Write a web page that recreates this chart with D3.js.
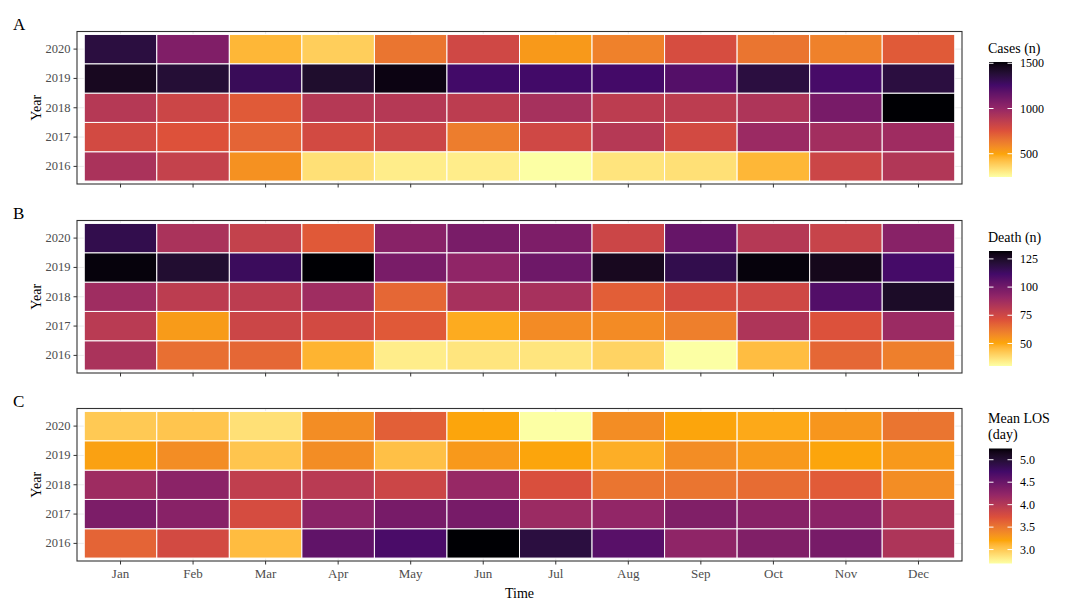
<!DOCTYPE html>
<html>
<head>
<meta charset="utf-8">
<script src="https://cdn.jsdelivr.net/npm/d3@7"></script>
<style>
  body { margin: 0; background: #fff; }
  svg text { font-family: "Liberation Serif", "DejaVu Serif", serif; }
</style>
</head>
<body>
<div id="chart"></div>
<script>
// ─── DATA ─────────────────────────────────────────────────────────────────────
// rows go 2016 → 2020, columns Jan → Dec

const months = ["Jan", "Feb", "Mar", "Apr", "May", "Jun",
                "Jul", "Aug", "Sep", "Oct", "Nov", "Dec"];
const years = [2016, 2017, 2018, 2019, 2020];

const cases = [
  [929, 840, 561, 332, 294, 294, 243, 319, 332, 446, 815, 904],
  [790, 751, 700, 790, 815, 624, 802, 891, 790, 980, 955, 967],
  [891, 815, 726, 891, 891, 866, 942, 866, 866, 917, 1094, 1514],
  [1450, 1387, 1298, 1412, 1489, 1260, 1260, 1255, 1209, 1361, 1247, 1361],
  [1361, 1069, 446, 383, 650, 802, 535, 612, 777, 650, 612, 726]
];

const deaths = [
  [85, 64, 66, 47, 34, 36, 36, 40, 30, 45, 66, 60],
  [81, 53, 76, 74, 69, 49, 57, 57, 60, 84, 71, 89],
  [88, 80, 80, 88, 66, 86, 86, 68, 73, 75, 108, 125],
  [131, 123, 114, 132, 98, 92, 101, 127, 117, 131, 128, 111],
  [117, 85, 78, 69, 94, 98, 97, 76, 103, 82, 77, 94]
];

const meanLos = [
  [3.61, 3.79, 3.07, 4.56, 4.69, 5.25, 4.94, 4.61, 4.25, 4.35, 4.41, 4.05],
  [4.38, 4.30, 3.77, 4.28, 4.41, 4.41, 4.17, 4.23, 4.35, 4.30, 4.28, 4.05],
  [4.15, 4.28, 3.92, 3.97, 3.84, 4.20, 3.74, 3.51, 3.51, 3.56, 3.66, 3.36],
  [3.23, 3.36, 3.02, 3.36, 3.05, 3.28, 3.20, 3.15, 3.36, 3.28, 3.20, 3.28],
  [3.00, 3.02, 2.87, 3.36, 3.64, 3.20, 2.69, 3.36, 3.20, 3.18, 3.30, 3.51]
];

const casesTicks = [500, 1000, 1500];
const deathTicks = [50, 75, 100, 125];
const losTicks = [3.0, 3.5, 4.0, 4.5, 5.0];

// six inferno anchors, high value = dark end
const palette = ["#FCFFA4", "#FCA50A", "#DD513A", "#932667", "#420A68", "#000004"];

const panels = [
  { tag: "A", values: cases, title: ["Cases (n)"], ticks: casesTicks, fmt: d3.format("d") },
  { tag: "B", values: deaths, title: ["Death (n)"], ticks: deathTicks, fmt: d3.format("d") },
  { tag: "C", values: meanLos, title: ["Mean LOS", "(day)"], ticks: losTicks, fmt: d3.format(".1f") }
];

// ─── LAYOUT ───────────────────────────────────────────────────────────────────
const W = 1074, H = 615;
const plotLeft = 77, plotRight = 962;
const panelTops = [31.5, 220.5, 408.5];
const panelH = 152.5;
const legendX = 989, legendW = 23;
const serif = "'Liberation Serif', 'DejaVu Serif', serif";

const svg = d3.select("#chart")
  .append("svg")
  .attr("width", W)
  .attr("height", H)
  .attr("font-family", serif);

const xScale = d3.scaleBand()
  .domain(months)
  .range([plotLeft, plotRight])
  .paddingInner(0)
  .paddingOuter(0.1);

panels.forEach((p, i) => drawPanel(p, panelTops[i], i === panels.length - 1));

// x title
svg.append("text")
  .attr("x", (plotLeft + plotRight) / 2)
  .attr("y", 598)
  .attr("text-anchor", "middle")
  .attr("font-size", 14)
  .attr("fill", "#000")
  .text("Time");

// ─── ONE PANEL ────────────────────────────────────────────────────────────────
function drawPanel(p, top, showMonths) {
  const bottom = top + panelH;

  const yScale = d3.scaleBand()
    .domain(years.slice().reverse())
    .range([top, bottom])
    .paddingInner(0)
    .paddingOuter(0.1);

  const flat = [];
  p.values.forEach((row, r) => row.forEach((v, c) => {
    flat.push({ year: years[r], month: months[c], value: v });
  }));

  // colour: 6 anchors spread over the data range, blended in Lab
  const extent = d3.extent(flat, d => d.value);
  const color = d3.scaleLinear()
    .domain(d3.range(palette.length).map(k => extent[0] + k * (extent[1] - extent[0]) / (palette.length - 1)))
    .range(palette)
    .interpolate(d3.interpolateLab);

  const g = svg.append("g");

  // 1. grid lines behind tiles
  g.selectAll(".vgrid")
    .data(months)
    .enter()
    .append("line")
    .attr("x1", d => xScale(d) + xScale.bandwidth() / 2)
    .attr("x2", d => xScale(d) + xScale.bandwidth() / 2)
    .attr("y1", top)
    .attr("y2", bottom)
    .attr("stroke", "#ebebeb")
    .attr("stroke-width", 1);

  g.selectAll(".hgrid")
    .data(years)
    .enter()
    .append("line")
    .attr("x1", plotLeft)
    .attr("x2", plotRight)
    .attr("y1", d => yScale(d) + yScale.bandwidth() / 2)
    .attr("y2", d => yScale(d) + yScale.bandwidth() / 2)
    .attr("stroke", "#ebebeb")
    .attr("stroke-width", 1);

  // 2. tiles
  g.selectAll(".tile")
    .data(flat)
    .enter()
    .append("rect")
    .attr("x", d => xScale(d.month))
    .attr("y", d => yScale(d.year))
    .attr("width", xScale.bandwidth())
    .attr("height", yScale.bandwidth())
    .attr("fill", d => color(d.value))
    .attr("stroke", "#fff")
    .attr("stroke-width", 1);

  // 3. frame
  g.append("rect")
    .attr("x", plotLeft)
    .attr("y", top)
    .attr("width", plotRight - plotLeft)
    .attr("height", panelH)
    .attr("fill", "none")
    .attr("stroke", "#333333")
    .attr("stroke-width", 1.1);

  // 4. y axis
  const yAxis = g.append("g")
    .attr("transform", `translate(${plotLeft},0)`)
    .call(d3.axisLeft(yScale).tickSize(3.5).tickPadding(3))
    .attr("font-family", serif)
    .attr("font-size", 12.5);
  yAxis.select(".domain").remove();
  yAxis.selectAll("line").attr("stroke", "#333333");
  yAxis.selectAll("text").attr("fill", "#4d4d4d");

  // 5. x axis (labels only on bottom panel)
  const xAxis = g.append("g")
    .attr("transform", `translate(0,${bottom})`)
    .call(d3.axisBottom(xScale).tickSize(3.5).tickPadding(4))
    .attr("font-family", serif)
    .attr("font-size", 13);
  xAxis.select(".domain").remove();
  xAxis.selectAll("line").attr("stroke", "#333333");
  xAxis.selectAll("text")
    .attr("fill", "#4d4d4d")
    .style("display", showMonths ? null : "none");

  // 6. y title
  g.append("text")
    .attr("transform", `translate(41,${top + panelH / 2}) rotate(-90)`)
    .attr("text-anchor", "middle")
    .attr("font-size", 14)
    .attr("fill", "#000")
    .text("Year");

  // 7. panel tag
  g.append("text")
    .attr("x", 13)
    .attr("y", top - 1.5)
    .attr("font-size", 17)
    .attr("fill", "#000")
    .text(p.tag);

  drawLegend(p, color, extent, top);
}

// ─── COLOUR BAR LEGEND ────────────────────────────────────────────────────────
function drawLegend(p, color, extent, top) {
  const y0 = p.title.length > 1 ? top + 40 : top + 30.5;
  const y1 = y0 + 115;

  const lg = svg.append("g");

  const gradId = "grad" + p.tag;
  const grad = svg.append("defs")
    .append("linearGradient")
    .attr("id", gradId)
    .attr("x1", 0).attr("x2", 0)
    .attr("y1", 1).attr("y2", 0);

  d3.range(0, 1.0001, 0.025).forEach(t => {
    grad.append("stop")
      .attr("offset", t)
      .attr("stop-color", color(extent[0] + t * (extent[1] - extent[0])));
  });

  const ly = d3.scaleLinear().domain(extent).range([y1, y0]);

  lg.append("rect")
    .attr("x", legendX)
    .attr("y", y0)
    .attr("width", legendW)
    .attr("height", y1 - y0)
    .attr("fill", `url(#${gradId})`);

  // white tick marks on both edges
  p.ticks.forEach(t => {
    [legendX, legendX + legendW - 4.5].forEach(x => {
      lg.append("line")
        .attr("x1", x).attr("x2", x + 4.5)
        .attr("y1", ly(t)).attr("y2", ly(t))
        .attr("stroke", "#fff")
        .attr("stroke-width", 1);
    });
  });

  lg.selectAll(".ltick")
    .data(p.ticks)
    .enter()
    .append("text")
    .attr("x", legendX + legendW + 8)
    .attr("y", d => ly(d))
    .attr("dy", "0.35em")
    .attr("font-size", 12)
    .attr("fill", "#000")
    .text(d => p.fmt(d));

  // title
  p.title.forEach((line, k) => {
    lg.append("text")
      .attr("x", legendX - 1)
      .attr("y", y0 - 9.5 - (p.title.length - 1 - k) * 16)
      .attr("font-size", 14)
      .attr("fill", "#000")
      .text(line);
  });
}
</script>
</body>
</html>
